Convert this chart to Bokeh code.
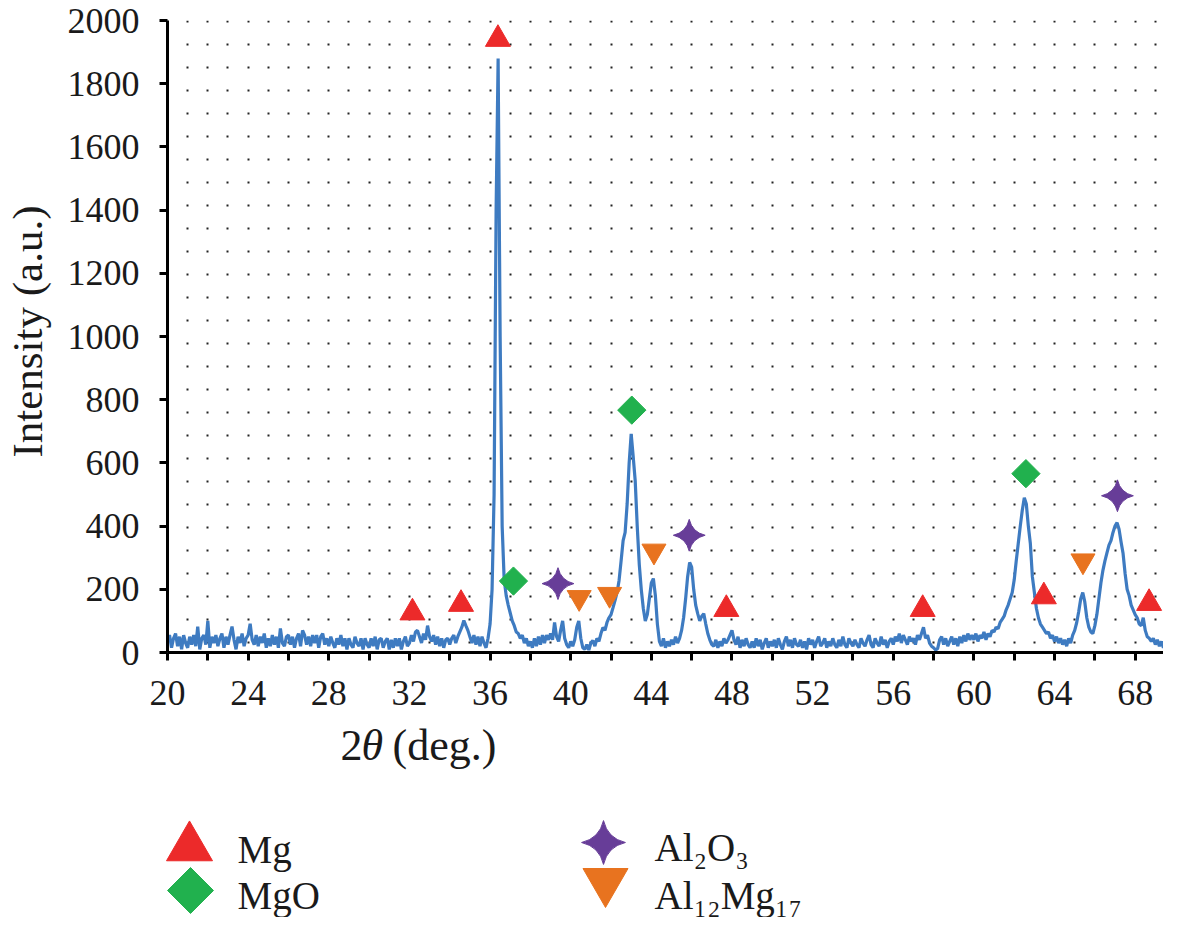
import math
from bokeh.plotting import figure
from bokeh.models import Range1d, FixedTicker, BoxAnnotation
from bokeh.embed import file_html
from bokeh.resources import INLINE
from bokeh.core.properties import value

# ---------------- data ----------------
two_theta_start = 20.0
two_theta_step = 0.1
intensity = [
    35, 55, 15, 45, 60, 20, 50, 10, 55, 30,          # 20
    15, 50, 25, 55, 20, 82, 10, 45, 55, 25,          # 21
    100, 15, 50, 30, 55, 20, 45, 60, 15, 50,         # 22
    25, 55, 82, 40, 10, 50, 30, 60, 20, 45,          # 23
    55, 91, 40, 25, 55, 20, 50, 30, 60, 15,          # 24
    45, 20, 55, 25, 50, 15, 76, 30, 20, 50,          # 25
    55, 25, 50, 15, 45, 60, 20, 70, 55, 25,          # 26
    50, 20, 55, 30, 55, 15, 50, 60, 25, 45,          # 27
    20, 50, 30, 15, 45, 25, 55, 20, 45, 10,          # 28
    45, 25, 15, 50, 30, 20, 45, 10, 45, 25,          # 29
    15, 45, 20, 50, 10, 40, 45, 15, 35, 45,          # 30
    10, 40, 15, 45, 20, 45, 10, 35, 50, 20,          # 31
    30, 55, 35, 65, 70, 50, 30, 60, 40, 85,          # 32
    50, 35, 55, 25, 50, 20, 45, 15, 40, 45,          # 33
    25, 45, 55, 30, 50, 65, 80, 101, 85, 70,         # 34
    50, 30, 55, 25, 50, 20, 50, 30, 15, 45,          # 35
    90, 200, 500, 1400, 1880, 1000, 400, 230, 180, 150,  # 36
    125, 100, 85, 65, 60, 45, 55, 30, 45, 20,        # 37
    35, 15, 45, 20, 50, 25, 55, 30, 55, 40,          # 38
    60, 40, 95, 50, 35, 70, 100, 45, 25, 15,         # 39
    35, 20, 40, 80, 100, 45, 15, 10, 25, 8,          # 40
    30, 38, 20, 45, 35, 60, 79, 70, 95, 110,         # 41
    120, 142, 165, 190, 228, 290, 354, 380, 470, 600,  # 42
    692, 620, 543, 400, 280, 200, 140, 100, 120, 170,  # 43
    220, 234, 180, 90, 35, 20, 45, 15, 35, 20,       # 44
    40, 25, 50, 30, 45, 70, 110, 170, 240, 285,      # 45
    270, 200, 150, 123, 100, 115, 123, 90, 60, 40,   # 46
    25, 20, 40, 15, 35, 20, 45, 30, 40, 55,          # 47
    70, 40, 25, 50, 15, 40, 20, 45, 25, 15,          # 48
    35, 15, 45, 20, 40, 10, 30, 45, 15, 35,          # 49
    20, 40, 15, 45, 25, 10, 35, 50, 20, 40,          # 50
    15, 45, 25, 20, 40, 15, 35, 10, 45, 25,          # 51
    40, 15, 35, 50, 20, 30, 45, 15, 35, 20,          # 52
    45, 25, 15, 40, 20, 50, 25, 15, 45, 30,          # 53
    20, 40, 25, 15, 45, 30, 20, 40, 55, 25,          # 54
    15, 45, 30, 20, 50, 25, 40, 15, 35, 45,          # 55
    25, 50, 35, 60, 30, 55, 40, 25, 50, 35,          # 56
    45, 25, 55, 40, 60, 80, 45, 55, 30, 20,          # 57
    15, 8, 12, 40, 50, 25, 45, 20, 35, 50,           # 58
    25, 45, 20, 50, 30, 55, 35, 60, 40, 55,          # 59
    40, 60, 35, 55, 45, 65, 40, 60, 50, 70,          # 60
    65, 80, 75, 95, 105, 115, 135, 150, 170, 190,    # 61
    230, 290, 345, 400, 450, 490, 470, 400, 345, 240,  # 62
    190, 140, 110, 90, 80, 70, 60, 65, 45, 55,       # 63
    35, 50, 30, 45, 25, 40, 20, 45, 30, 55,          # 64
    70, 95, 130, 170, 190, 160, 110, 80, 65, 60,     # 65
    85, 120, 170, 220, 260, 290, 315, 340, 354, 380,  # 66
    400, 411, 390, 350, 313, 250, 200, 180, 150, 135,  # 67
    120, 110, 90, 85, 110, 70, 50, 45, 35, 45,       # 68
    25, 40, 20, 35, 15, 30, 20, 35, 15, 25,          # 69
    20,                                              # 70
]
two_theta = [round(two_theta_start + i * two_theta_step, 2) for i in range(len(intensity))]

mg_x = [32.15, 34.56, 36.39, 47.72, 57.46, 63.47, 68.69]
mg_y = [126, 153, 1941, 137, 137, 177, 156]
mgo_x = [37.16, 43.03, 62.58]
mgo_y = [226, 767, 566]
al2o3_x = [39.37, 45.88, 67.12]
al2o3_y = [218, 371, 496]
al12mg17_x = [40.42, 41.93, 44.13, 65.41]
al12mg17_y = [174, 184, 321, 290]

x_major_ticks = [20, 24, 28, 32, 36, 40, 44, 48, 52, 56, 60, 64, 68]
x_minor_ticks = [22, 26, 30, 34, 38, 42, 46, 50, 54, 58, 62, 66, 70]
x_grid_ticks = list(range(21, 71))
y_ticks = [0, 200, 400, 600, 800, 1000, 1200, 1400, 1600, 1800, 2000]

y_axis_title = "Intensity (a.u.)"
legend_labels = ["Mg", "MgO", "Al\u2082O\u2083", "Al\u2081\u2082Mg\u2081\u2087"]

# ---------------- style / layout ----------------
FONT = "Liberation Serif"
TXT = "#1a1a1a"
RED = "#EC2A2A"
GREEN = "#21B14E"
PURPLE = "#673D98"
ORANGE = "#E8731F"
BLUE = "#3E7BC1"

W, H = 1163, 917              # canvas = frame (all axes are placed at fixed locations)
ORIGIN_X, AXIS_Y, TOP_Y = 167, 652, 20   # canvas px of 2θ=20, intensity 0, intensity 2000
X_MIN, PX_PER_DEG = 20, 20.16
units_per_px = 2000 / (AXIS_Y - TOP_Y)
x_start = X_MIN - ORIGIN_X / PX_PER_DEG
x_end = X_MIN + (W - ORIGIN_X) / PX_PER_DEG
y_start = -(H - AXIS_Y) * units_per_px
y_end = 2000 + TOP_Y * units_per_px

p = figure(width=W, height=H, x_range=Range1d(x_start, x_end), y_range=Range1d(y_start, y_end),
           output_backend="svg", toolbar_location=None, min_border=0)
p.outline_line_color = None
p.background_fill_color = "white"
p.border_fill_color = "white"
# pixel-coordinate ranges for titles / legend block
p.extra_x_ranges = {"px_x": Range1d(0, W)}
p.extra_y_ranges = {"px_y": Range1d(H, 0)}

# dotted vertical grid, limited to the data area by white underlay masks
p.xgrid.ticker = FixedTicker(ticks=x_grid_ticks)
p.xgrid.grid_line_color = "#222222"
p.xgrid.grid_line_width = 2
p.xgrid.grid_line_dash = "2 21"
p.xgrid.grid_line_dash_offset = 2
p.ygrid.visible = False
p.add_layout(BoxAnnotation(top=0, fill_color="white", fill_alpha=1, line_color=None, level="underlay"))
p.add_layout(BoxAnnotation(bottom=2000, fill_color="white", fill_alpha=1, line_color=None, level="underlay"))

xa = p.xaxis[0]
xa.ticker = FixedTicker(ticks=x_major_ticks, minor_ticks=x_minor_ticks)
xa.fixed_location = 0
xa.bounds = (X_MIN, x_end)
ya = p.yaxis[0]
ya.ticker = FixedTicker(ticks=y_ticks, minor_ticks=[])
ya.fixed_location = X_MIN
ya.bounds = (0, 2000)
for ax in (xa, ya):
    ax.axis_line_color = "black"
    ax.axis_line_width = 3
    ax.major_tick_line_color = "black"
    ax.major_tick_line_width = 3
    ax.major_tick_out = 8
    ax.major_tick_in = 0
    ax.minor_tick_line_color = "black"
    ax.minor_tick_line_width = 3
    ax.minor_tick_out = 8
    ax.minor_tick_in = 0
    ax.major_label_text_font = FONT
    ax.major_label_text_font_size = "36px"
    ax.major_label_text_color = TXT
xa.major_label_standoff = 20
ya.major_label_standoff = 20

p.line(two_theta, intensity, line_color=BLUE, line_width=3.2)

p.scatter(mg_x, mg_y, marker="triangle", size=25, fill_color=RED, line_color=RED)
p.scatter(mgo_x, mgo_y, marker="square", angle=math.pi / 4, size=20, fill_color=GREEN, line_color=GREEN)
p.scatter(al2o3_x, al2o3_y, marker="square_pin", angle=math.pi / 4, size=22.5,
          fill_color=PURPLE, line_color=PURPLE)
p.scatter(al12mg17_x, al12mg17_y, marker="inverted_triangle", size=24, fill_color=ORANGE, line_color=ORANGE)

# ---------------- axis titles ----------------
p.text(x=[27], y=[331], text=[y_axis_title], angle=math.pi / 2, x_range_name="px_x", y_range_name="px_y",
       text_font=value(FONT), text_font_size="43px", text_color=TXT,
       text_align="center", text_baseline="middle")

title_parts = ["2", "\u03b8", "(deg.)"]
title_x = [340, 361, 392]
title_styles = ["normal", "italic", "normal"]
for t, tx, st in zip(title_parts, title_x, title_styles):
    p.text(x=[tx], y=[745], text=[t], x_range_name="px_x", y_range_name="px_y",
           text_font=value(FONT), text_font_size="44px", text_font_style=st,
           text_color=TXT, text_align="left", text_baseline="middle")

# ---------------- legend block ----------------
legend_marker_x = [189, 190, 603, 605]
legend_marker_y = [847, 890, 842, 881]
legend_markers = ["triangle", "square", "square_pin", "inverted_triangle"]
legend_angles = [0, math.pi / 4, math.pi / 4, 0]
legend_sizes = [46, 32.5, 31, 45]
legend_colors = [RED, GREEN, PURPLE, ORANGE]
legend_text_x = [237, 237, 654, 654]
legend_text_y = [849, 895, 847, 895]

p.scatter(x=legend_marker_x, y=legend_marker_y, marker=legend_markers, angle=legend_angles,
          size=legend_sizes, fill_color=legend_colors, line_color=legend_colors,
          x_range_name="px_x", y_range_name="px_y")
p.text(x=legend_text_x, y=legend_text_y, text=legend_labels, x_range_name="px_x", y_range_name="px_y",
       text_font=value(FONT), text_font_size="39px", text_color=TXT,
       text_align="left", text_baseline="middle")

open("out.html", "w").write(file_html(p, INLINE))
